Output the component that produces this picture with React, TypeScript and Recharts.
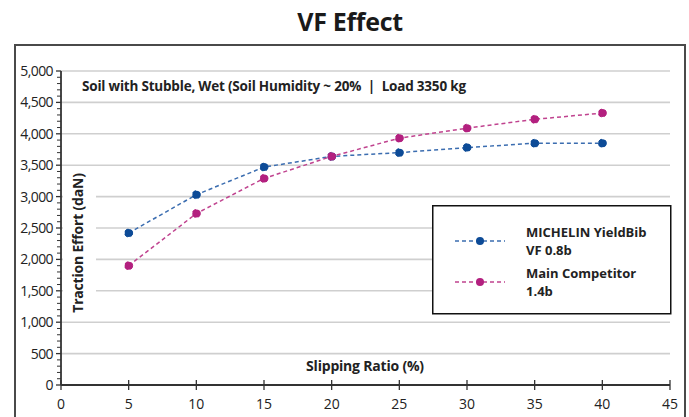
import React from 'react';
import { LineChart, Line, XAxis, YAxis, CartesianGrid, Legend } from 'recharts';

const slipRatio = [5, 10, 15, 20, 25, 30, 35, 40];
const michelinValues = [2420, 3030, 3470, 3640, 3700, 3780, 3850, 3850];
const competitorValues = [1900, 2730, 3290, 3640, 3930, 4090, 4230, 4330];

const xTicks = [0, 5, 10, 15, 20, 25, 30, 35, 40, 45];
const yMajorTicks = [0, 500, 1000, 1500, 2000, 2500, 3000, 3500, 4000, 4500, 5000];
const yMinorStep = 100;
const gridValues = [500, 1000, 1500, 2000, 2500, 3000, 3500, 4000, 4500, 5000];

const seriesLabels: Record<string, string[]> = {
  michelin: ['MICHELIN YieldBib', 'VF 0.8b'],
  competitor: ['Main Competitor', '1.4b'],
};

const title = 'VF Effect';
const subtitle = 'Soil with Stubble, Wet (Soil Humidity ~ 20%  |  Load 3350 kg';
const xLabel = 'Slipping Ratio (%)';
const yLabel = 'Traction Effort (daN)';

const BLUE_DOT = '#0d4b97';
const BLUE_LINE = '#3b6db0';
const MAG_DOT = '#b3207f';
const MAG_LINE = '#c0438f';
const AXIS = '#333333';
const FONT = '"Open Sans", "Noto Sans", sans-serif';

const data = slipRatio.map((x, i) => ({ x, michelin: michelinValues[i], competitor: competitorValues[i] }));

const yAllTicks: number[] = [];
for (let v = 0; v <= 5000; v += yMinorStep) yAllTicks.push(v);

const YTick = (props: any) => {
  const { x, y, payload } = props;
  const v = payload.value as number;
  const major = yMajorTicks.includes(v);
  if (!major) {
    return <line x1={x - 4} x2={x} y1={y} y2={y} stroke={AXIS} strokeWidth={1} />;
  }
  return (
    <g>
      <line x1={x - 5} x2={x} y1={y} y2={y} stroke={AXIS} strokeWidth={1.3} />
      <text x={x - 8} y={y} dy={5} textAnchor="end" fontFamily={FONT} fontSize={14} fill="#222" letterSpacing={-0.6}>
        {v.toLocaleString('en-US')}
      </text>
    </g>
  );
};

const XTick = (props: any) => {
  const { x, y, payload } = props;
  return (
    <g>
      <line x1={x} x2={x} y1={y - 5} y2={y + 5} stroke={AXIS} strokeWidth={1.3} />
      <text x={x} y={y + 24} textAnchor="middle" fontFamily={FONT} fontSize={14} fill="#222">
        {payload.value}
      </text>
    </g>
  );
};

const renderLegend = (props: any) => {
  const { payload } = props;
  return (
    <svg width={240} height={110} style={{ display: 'block' }}>
      <rect x={0.75} y={0.75} width={238} height={108} fill="#fff" stroke="#111" strokeWidth={1.5} />
      {(payload || []).map((entry: any, i: number) => {
        const key = entry.dataKey as string;
        const lines = seriesLabels[key] || [entry.value];
        const cy = 36 + i * 41;
        const lineColor = key === 'michelin' ? BLUE_LINE : MAG_LINE;
        const dotColor = key === 'michelin' ? BLUE_DOT : MAG_DOT;
        return (
          <g key={key}>
            <line x1={23} x2={73} y1={cy} y2={cy} stroke={lineColor} strokeWidth={1.5} strokeDasharray="4 3" />
            <circle cx={48} cy={cy} r={4} fill={dotColor} />
            <text x={94} y={cy - 4} fontFamily={FONT} fontSize={13} fontWeight={700} fill="#222">
              {lines.map((t, j) => (
                <tspan key={j} x={94} dy={j === 0 ? 0 : 18}>{t}</tspan>
              ))}
            </text>
          </g>
        );
      })}
    </svg>
  );
};

export default function App() {
  return (
    <div style={{ position: 'absolute', left: 0, top: 0, width: 689, height: 417, background: '#fff', overflow: 'hidden', fontFamily: FONT }}>
      <div style={{ position: 'absolute', left: 0, top: 4, width: 700, textAlign: 'center', fontSize: 25, fontWeight: 700, color: '#1a1a1a', letterSpacing: -0.3 }}>
        {title}
      </div>
      <div style={{ position: 'absolute', left: 14, top: 44, width: 668, height: 420, border: '2px solid #4a4a4a' }} />
      <div style={{ position: 'absolute', left: 0, top: 0 }}>
        <LineChart width={689} height={417} data={data} margin={{ top: 71, right: 19, bottom: 1, left: 0 }}>
          <CartesianGrid horizontal={true} vertical={false} horizontalValues={gridValues} stroke="#cfcfcf" strokeWidth={1.6} />
          <XAxis
            dataKey="x"
            type="number"
            domain={[0, 45]}
            ticks={xTicks}
            tick={<XTick />}
            tickLine={false}
            tickSize={0}
            tickMargin={0}
            axisLine={{ stroke: AXIS, strokeWidth: 1.8 }}
            height={31}
            interval={0}
          />
          <YAxis
            type="number"
            domain={[0, 5000]}
            ticks={yAllTicks}
            tick={<YTick />}
            tickLine={false}
            tickSize={0}
            tickMargin={0}
            axisLine={{ stroke: AXIS, strokeWidth: 1.8 }}
            width={61}
            interval={0}
          />
          <Legend layout="horizontal" align="center" verticalAlign="middle" content={renderLegend}
            wrapperStyle={{ left: 432, top: 205, width: 240, height: 110 }} />
          <Line type="linear" dataKey="michelin" name="MICHELIN YieldBib VF 0.8b" stroke={BLUE_LINE} strokeWidth={1.5}
            strokeDasharray="4 3" dot={{ r: 4, fill: BLUE_DOT, stroke: BLUE_DOT, strokeWidth: 1 }} isAnimationActive={false} />
          <Line type="linear" dataKey="competitor" name="Main Competitor 1.4b" stroke={MAG_LINE} strokeWidth={1.5}
            strokeDasharray="4 3" dot={{ r: 4, fill: MAG_DOT, stroke: MAG_DOT, strokeWidth: 1 }} isAnimationActive={false} />
        </LineChart>
      </div>
      <div style={{ position: 'absolute', left: 82, top: 77, fontSize: 13.5, fontWeight: 700, color: '#222', whiteSpace: 'pre', letterSpacing: -0.2 }}>
        {subtitle}
      </div>
      <div style={{ position: 'absolute', left: 265, top: 356, width: 200, textAlign: 'center', fontSize: 14, fontWeight: 700, color: '#222', letterSpacing: -0.2 }}>
        {xLabel}
      </div>
      <div style={{ position: 'absolute', left: 63, top: 170, width: 33, height: 146, background: '#fff' }} />
      <div style={{ position: 'absolute', left: 78, top: 243, width: 0, height: 0 }}>
        <div style={{ position: 'absolute', left: -80, top: -10, width: 160, height: 20, lineHeight: '20px', textAlign: 'center', transform: 'rotate(-90deg)', fontSize: 14, fontWeight: 700, color: '#222', whiteSpace: 'nowrap', letterSpacing: -0.2 }}>
          {yLabel}
        </div>
      </div>
    </div>
  );
}
